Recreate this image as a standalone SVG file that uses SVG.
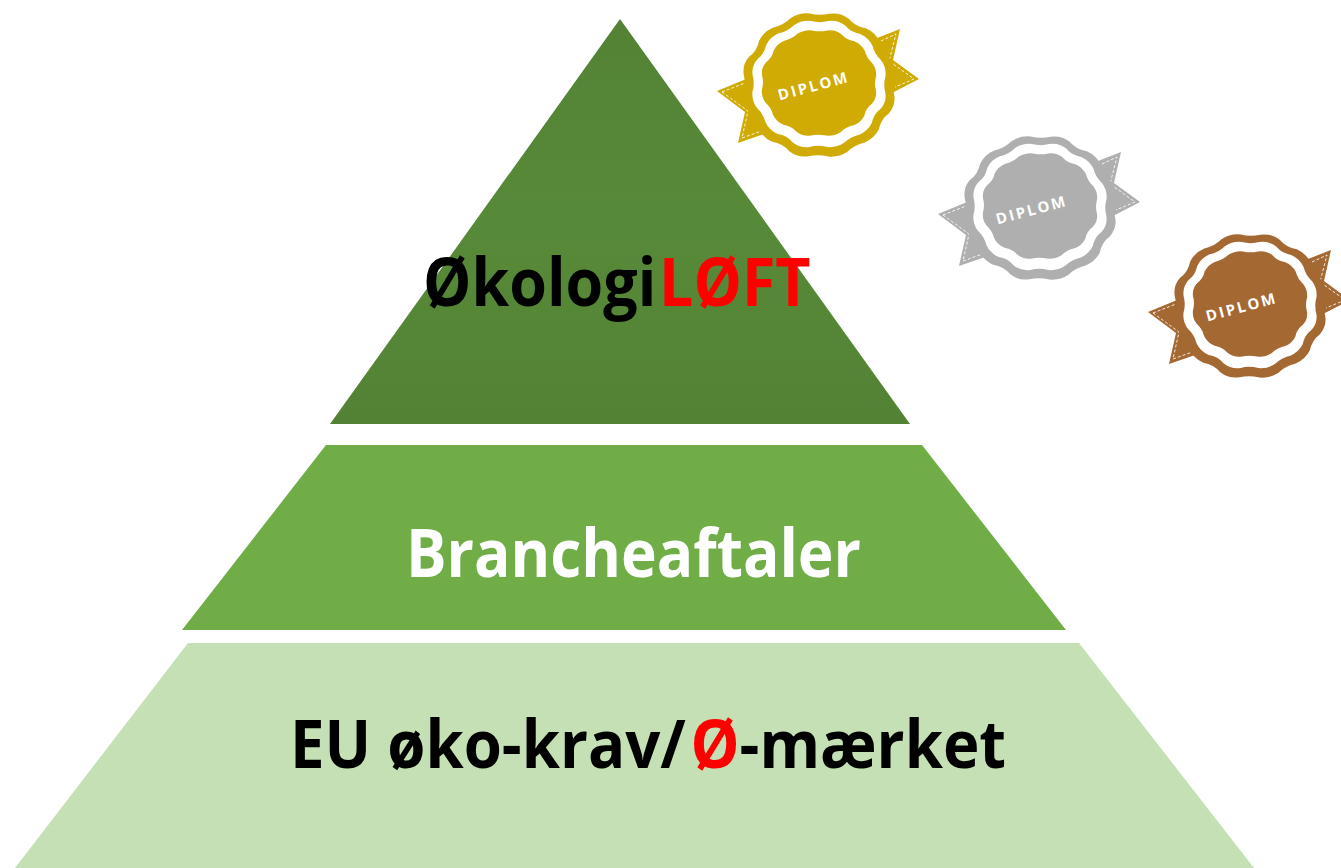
<svg xmlns="http://www.w3.org/2000/svg" width="1341" height="868" viewBox="0 0 1341 868">
<style>
.lbl{font-family:"Open Sans","Noto Sans",sans-serif;font-weight:700;font-size:66px}
.dip{font-family:"Open Sans","Noto Sans",sans-serif;font-weight:700;font-size:15px;letter-spacing:2.2px;fill:#fff;text-anchor:middle}
.stitch{fill:none;stroke:#fff;stroke-width:1;stroke-dasharray:3 2;opacity:.85}
</style>
<defs>
<linearGradient id="top" x1="0" y1="0" x2="0" y2="1"><stop offset="0" stop-color="#548235"/><stop offset=".5" stop-color="#578A38"/><stop offset="1" stop-color="#548235"/></linearGradient>
<path id="wave" d="M100 0Q104.1 13.7 96.6 25.9Q87 36 86.6 50Q82.5 63.3 70.7 70.7Q58 75.6 50 86.6Q39.8 96.1 25.9 96.6Q12.5 94.9 0 100Q-13.7 104.1 -25.9 96.6Q-36 87 -50 86.6Q-63.3 82.5 -70.7 70.7Q-75.6 58 -86.6 50Q-96.1 39.8 -96.6 25.9Q-94.9 12.5 -100 0Q-104.1 -13.7 -96.6 -25.9Q-87 -36 -86.6 -50Q-82.5 -63.3 -70.7 -70.7Q-58 -75.6 -50 -86.6Q-39.8 -96.1 -25.9 -96.6Q-12.5 -94.9 0 -100Q13.7 -104.1 25.9 -96.6Q36 -87 50 -86.6Q63.3 -82.5 70.7 -70.7Q75.6 -58 86.6 -50Q96.1 -39.8 96.6 -25.9Q94.9 -12.5 100 0Z"/>
<g id="badge">
<path fill="currentColor" d="M-102 6L-68 -8L-49 47L-81 58L-74 27Z"/>
<path fill="currentColor" d="M58 -47L81 -56L74 -25L100 -6L73 8Z"/>
<path class="stitch" d="M-97 7L-74 -2M-97 7L-71 26L-77 53L-52 44"/>
<path class="stitch" d="M62 -44L77 -51L70 -24L95 -6L76 2"/>
<use href="#wave" fill="currentColor" transform="scale(.76 .72) rotate(8)"/>
<use href="#wave" fill="#fff" transform="translate(0 -1) scale(.67 .635) rotate(8)"/>
<use href="#wave" fill="currentColor" transform="translate(0 -2) scale(.575 .53) rotate(8)"/>
</g>
</defs>
<rect width="1341" height="868" fill="#fff"/>
<g id="level-top">
<path d="M620 19L910 424H330Z" fill="url(#top)"/>
<text class="lbl" transform="translate(423 306) scale(.923 1)">Økologi<tspan dx="3" fill="#f00">LØFT</tspan></text>
</g>
<g id="level-middle">
<path d="M326 445H922L1066 630H182Z" fill="#70AD47"/>
<text class="lbl" x="406" y="577" fill="#fff" textLength="455" lengthAdjust="spacingAndGlyphs">Brancheaftaler</text>
</g>
<g id="level-bottom">
<path d="M188 643H1079L1254 868H15Z" fill="#C5E0B4"/>
<text class="lbl" transform="translate(290 768) scale(.935 1)">EU øko-krav/<tspan dx="5" fill="#f00">Ø</tspan>-mærket</text>
</g>
<g id="badge-gold" color="#D0AB04" transform="translate(819 85)">
<use href="#badge"/>
<text class="dip" transform="translate(-4 6) rotate(-15)">DIPLOM</text>
</g>
<g id="badge-silver" color="#AEAFAE" transform="translate(1040 208)">
<use href="#badge"/>
<text class="dip" transform="translate(-7 7) rotate(-15)">DIPLOM</text>
</g>
<g id="badge-bronze" color="#A46833" transform="translate(1250 306)">
<use href="#badge"/>
<text class="dip" transform="translate(-7 6) rotate(-15)">DIPLOM</text>
</g>
</svg>
